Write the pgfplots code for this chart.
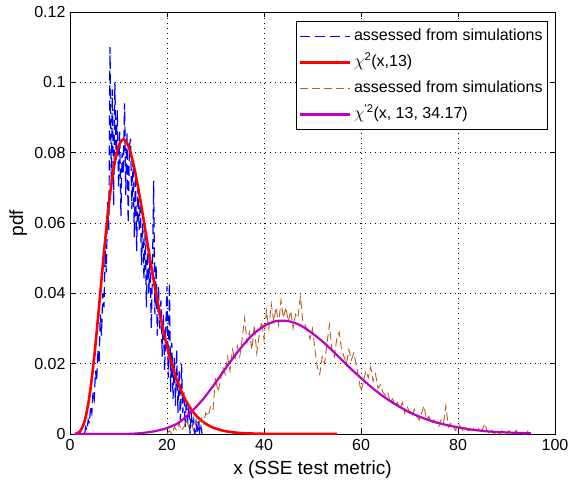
\documentclass[border=0pt]{standalone}
\usepackage{fontspec}
\setmainfont{Liberation Sans}
\usepackage{pgfplots}
\pgfplotsset{compat=1.18}
\definecolor{mblue}{rgb}{0,0,1}
\definecolor{mred}{rgb}{1,0,0}
\definecolor{mbrown}{rgb}{0.72,0.36,0.12}
\definecolor{mmag}{rgb}{0.75,0,0.75}
\begin{document}
\begin{tikzpicture}
\useasboundingbox (-70pt,-50pt) rectangle (499pt,434pt);
\begin{axis}[
  scale only axis, width=485pt, height=422pt,
  xmin=0, xmax=100, ymin=0, ymax=0.12,
  xtick={0,20,40,60,80,100},
  ytick={0,0.02,0.04,0.06,0.08,0.1,0.12},
  scaled y ticks=false,
  yticklabel style={/pgf/number format/fixed,/pgf/number format/precision=2},
  tick label style={font=\fontsize{16}{19}\selectfont, /pgf/number format/assume math mode=true},
  xticklabel style={yshift=-2pt},
  yticklabel style={xshift=-1pt},
  label style={font=\fontsize{19}{22}\selectfont},
  xlabel={x (SSE test metric)},
  ylabel={pdf},
  xlabel style={at={(axis description cs:0.5,0)}, yshift=-36pt, anchor=center},
  ylabel style={at={(axis description cs:-0.107,0.5)}, anchor=center},
  axis line style={black, line width=0.9pt},
  major tick length=5pt,
  tick style={black, line width=0.8pt},
  grid=major,
  major grid style={black, line width=0.7pt, dash pattern=on 1pt off 4pt},
  legend cell align=left,
  legend style={at={(rel axis cs:0.9856,0.9787)}, anchor=north east,
    draw=black, line width=0.9pt, font=\fontsize{16}{19}\selectfont,
    inner xsep=2pt, inner ysep=2pt, row sep=0pt,
    nodes={text height=13pt, text depth=5pt, inner ysep=4pt, inner xsep=3pt}},
  legend image code/.code={\draw[#1] (0pt,0pt) -- (50pt,0pt);},
]
\addplot[mblue, line width=1.2pt, dash pattern=on 10pt off 5pt] coordinates {
(3.0,0.000) (3.25,0.002) (3.5,0.001) (3.75,0.004) (4.0,0.003) (4.25,0.008) (4.5,0.006) (4.75,0.012)
(5.0,0.010) (5.25,0.018) (5.5,0.015) (5.75,0.024) (6.0,0.020) (6.25,0.034) (6.5,0.028) (6.75,0.040)
(7.0,0.036) (7.25,0.052) (7.5,0.046) (7.75,0.066) (8.0,0.058) (8.25,0.110) (8.5,0.072) (8.75,0.098)
(9.0,0.065) (9.25,0.100) (9.5,0.078) (9.75,0.092) (10.0,0.070) (10.25,0.086) (10.5,0.062) (10.75,0.080)
(11.0,0.074) (11.25,0.094) (11.5,0.068) (11.75,0.086) (12.0,0.060) (12.25,0.082) (12.5,0.084) (12.75,0.064)
(13.0,0.078) (13.25,0.056) (13.5,0.074) (13.75,0.052) (14.0,0.070) (14.25,0.058) (14.5,0.066) (14.75,0.048)
(15.0,0.060) (15.25,0.044) (15.5,0.058) (15.75,0.036) (16.0,0.054) (16.25,0.040) (16.5,0.050) (16.75,0.030)
(17.0,0.046) (17.25,0.072) (17.5,0.034) (17.75,0.048) (18.0,0.028) (18.25,0.042) (18.5,0.030) (18.75,0.038)
(19.0,0.022) (19.25,0.034) (19.5,0.018) (19.75,0.030) (20.0,0.042) (20.25,0.016) (20.5,0.043) (20.75,0.012)
(21.0,0.026) (21.25,0.010) (21.5,0.022) (21.75,0.008) (22.0,0.024) (22.25,0.006) (22.5,0.018) (22.75,0.004)
(23.0,0.020) (23.25,0.006) (23.5,0.012) (23.75,0.002) (24.0,0.010) (24.25,0.003) (24.5,0.008) (24.75,0.000)
(25.0,0.006) (25.25,0.002) (25.5,0.004) (25.75,0.000) (26.0,0.003) (26.25,0.000) (26.5,0.004) (26.75,0.000)
(27.0,0.002) (27.25,0.000)
};
\addlegendentry{assessed from simulations}
\addplot[mred, line width=2.6pt, smooth] coordinates {
(1,0.00002) (2,0.00064) (3,0.0036) (4,0.01063) (5,0.0220) (6,0.03638) (7,0.05152) (8,0.06513)
(9,0.07553) (10,0.08178) (11,0.08378) (12,0.08201) (13,0.07725) (14,0.07043) (15,0.06243) (16,0.05398)
(17,0.04572) (18,0.03796) (19,0.03100) (20,0.02493) (21,0.01978) (22,0.01550) (23,0.01200) (24,0.00920)
(25,0.00698) (26,0.00526) (27,0.00392) (28,0.00290) (29,0.00214) (30,0.00156) (32,0.00082) (34,0.00042)
(36,0.00021) (40,0.00005) (45,0.00001) (50,0) (55,0)
};
\addlegendentry{$\chi$\textsuperscript{2}(x,13)}
\addplot[mbrown, line width=0.9pt, dash pattern=on 8pt off 4pt] coordinates {
(20.0,0.000) (20.5,0.001) (21.0,0.000) (21.5,0.002) (22.0,0.001) (22.5,0.003) (23.0,0.001) (23.5,0.002)
(24.0,0.004) (24.5,0.002) (25.0,0.003) (25.5,0.001) (26.0,0.004) (26.5,0.002) (27.0,0.005) (27.5,0.003)
(28.0,0.006) (28.5,0.005) (29.0,0.008) (29.5,0.007) (30.0,0.016) (30.5,0.012) (31.0,0.015) (31.5,0.019)
(32.0,0.017) (32.5,0.022) (33.0,0.018) (33.5,0.024) (34.0,0.021) (34.5,0.025) (35.0,0.022) (35.5,0.027)
(36.0,0.033) (36.5,0.026) (37.0,0.029) (37.5,0.024) (38.0,0.031) (38.5,0.023) (39.0,0.028) (39.5,0.032)
(40.0,0.027) (40.5,0.035) (41.0,0.030) (41.5,0.037) (42.0,0.032) (42.5,0.036) (43.0,0.031) (43.5,0.038)
(44.0,0.033) (44.5,0.036) (45.0,0.032) (45.5,0.035) (46.0,0.030) (46.5,0.034) (47.0,0.033) (47.5,0.039)
(48.0,0.032) (48.5,0.031) (49.0,0.029) (49.5,0.027) (50.0,0.030) (50.5,0.024) (51.0,0.019) (51.5,0.017)
(52.0,0.022) (52.5,0.020) (53.0,0.026) (53.5,0.031) (54.0,0.024) (54.5,0.022) (55.0,0.027) (55.5,0.029)
(56.0,0.024) (56.5,0.022) (57.0,0.020) (57.5,0.024) (58.0,0.021) (58.5,0.023) (59.0,0.020) (59.5,0.016)
(60.0,0.012) (60.5,0.015) (61.0,0.018) (61.5,0.016) (62.0,0.019) (62.5,0.015) (63.0,0.017) (63.5,0.013)
(64.0,0.014) (64.5,0.012) (65.0,0.011) (65.5,0.012) (66.0,0.009) (66.5,0.010) (67.0,0.008) (67.5,0.009)
(68.0,0.007) (68.5,0.009) (69.0,0.006) (69.5,0.008) (70.0,0.006) (70.5,0.005) (71.0,0.007) (71.5,0.005)
(72.0,0.004) (72.5,0.006) (73.0,0.008) (73.5,0.004) (74.0,0.005) (74.5,0.003) (75.0,0.004) (75.5,0.003)
(76.0,0.002) (76.5,0.004) (77.0,0.003) (77.5,0.008) (78.0,0.002) (78.5,0.003) (79.0,0.002) (79.5,0.001)
(80.0,0.003) (80.5,0.002) (81.0,0.001) (81.5,0.002) (82.0,0.001) (82.5,0.001) (83.0,0.002) (83.5,0.001)
(84.0,0.001) (84.5,0.002) (85.0,0.001) (85.5,0.003) (86.0,0.001) (86.5,0.000) (87.0,0.001) (87.5,0.000)
(88.0,0.001) (88.5,0.000) (89.0,0.001) (89.5,0.000) (90.0,0.000) (90.5,0.001) (91.0,0.000) (91.5,0.000)
(92.0,0.001) (92.5,0.000) (93.0,0.000) (93.5,0.000) (94.0,0.000) (94.5,0.001) (95.0,0.000)
};
\addlegendentry{assessed from simulations}
\addplot[mmag, line width=2.2pt, smooth] coordinates {
(1,0) (5,0) (10,0.00001) (12.5,0.00005) (15,0.0003) (17.5,0.0008) (20,0.0017) (22.5,0.0033)
(25,0.0063) (27.5,0.0100) (30,0.0146) (32.5,0.0195) (35,0.0241) (37.5,0.0280) (40,0.0307) (42.5,0.0321)
(45,0.0321) (47.5,0.0309) (50,0.0286) (52.5,0.0258) (55,0.0225) (57.5,0.0191) (60,0.0159) (62.5,0.0129)
(65,0.0103) (67.5,0.0081) (70,0.0062) (72.5,0.0047) (75,0.0035) (77.5,0.0026) (80,0.0019) (82.5,0.0013)
(85,0.0009) (87.5,0.0006) (90,0.00045) (92.5,0.0003) (95,0.0002)
};
\addlegendentry{$\chi$\textsuperscript{\textquotesingle2}(x, 13, 34.17)}
\end{axis}
\end{tikzpicture}
\end{document}
